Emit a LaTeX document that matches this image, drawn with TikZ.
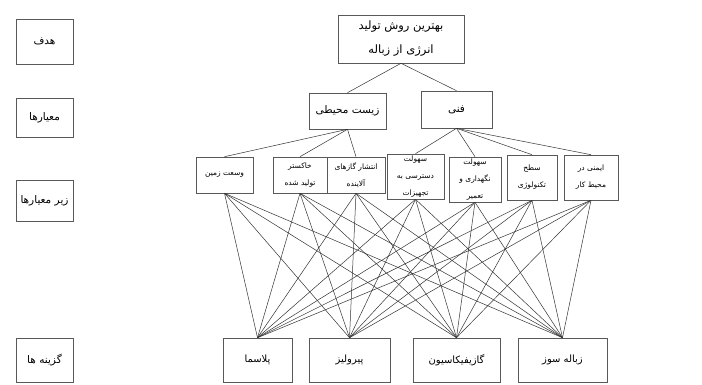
\documentclass[tikz,border=0pt]{standalone}
\usepackage{fontspec}
\newfontfamily\fa[Script=Arabic]{DejaVu Sans}
\TeXXeTstate=1
\newcommand{\RL}[1]{{\fa\beginR #1\endR}}
\tikzset{
  box/.style={draw=black!65, line width=0.6pt, inner sep=0pt, align=center, fill=white},
  lbl/.style={font=\fontsize{10.5}{24}\selectfont},
  goalf/.style={font=\fontsize{11.5}{24}\selectfont},
  crit/.style={font=\fontsize{10.5}{24}\selectfont},
  alt/.style={font=\fontsize{10}{24}\selectfont},
  small/.style={font=\fontsize{7.5}{17}\selectfont},
  ln/.style={draw=black!80, line width=0.5pt}
}
\begin{document}
\begin{tikzpicture}[x=1pt,y=-1pt]
\useasboundingbox[fill=white] (0,0) rectangle (702,385);
% left level labels
\node[box,lbl,minimum width=57,minimum height=45] (l1) at (44.5,41.5) {\RL{هدف}};
\node[box,lbl,minimum width=57,minimum height=39] (l2) at (44.5,117.5) {\RL{معیارها}};
\node[box,lbl,minimum width=57,minimum height=41] (l3) at (44.5,200.5) {\RL{زیر معیارها}};
\node[box,lbl,minimum width=57,minimum height=44] (l4) at (44.5,360) {\RL{گزینه ها}};
% goal
\node[box,goalf,minimum width=126,minimum height=48] (goal) at (401,39) {\RL{بهترین روش تولید}\\\RL{انرژی از زباله}};
% criteria
\node[box,crit,minimum width=77,minimum height=36] (env) at (347.5,111) {\RL{زیست محیطی}};
\node[box,crit,minimum width=71,minimum height=37] (tech) at (456.5,109.5) {\RL{فنی}};
% sub-criteria
\node[box,small,minimum width=57,minimum height=36] (s1) at (224.5,175) {\RL{وسعت زمین}};
\node[box,small,minimum width=54,minimum height=36] (s2) at (300,175) {\RL{خاکستر}\\\RL{تولید شده}};
\node[box,small,minimum width=58,minimum height=36] (s3) at (356,175) {\RL{انتشار گازهای}\\\RL{آلاینده}};
\node[box,small,minimum width=57,minimum height=45] (s4) at (415.5,176.5) {\RL{سهولت}\\\RL{دسترسی به}\\\RL{تجهیزات}};
\node[box,small,minimum width=52,minimum height=45] (s5) at (475,179.5) {\RL{سهولت}\\\RL{نگهداری و}\\\RL{تعمیر}};
\node[box,small,minimum width=50,minimum height=45] (s6) at (532,177.5) {\RL{سطح}\\\RL{تکنولوژی}};
\node[box,small,minimum width=54,minimum height=45] (s7) at (591,177.5) {\RL{ایمنی در}\\\RL{محیط کار}};
% alternatives
\node[box,alt,minimum width=69,minimum height=44] (a1) at (257.5,360) {\RL{پلاسما}};
\node[box,alt,minimum width=81,minimum height=44] (a2) at (349.5,360) {\RL{پیرولیز}};
\node[box,alt,minimum width=87,minimum height=44] (a3) at (456.5,360) {\RL{گازیفیکاسیون}};
\node[box,alt,minimum width=89,minimum height=44] (a4) at (562.5,360) {\RL{زباله سوز}};
% connectors
\draw[ln] (goal.south) -- (env.north);
\draw[ln] (goal.south) -- (tech.north);
\foreach \s in {s1,s2,s3} \draw[ln] (env.south) -- (\s.north);
\foreach \s in {s4,s5,s6,s7} \draw[ln] (tech.south) -- (\s.north);
\foreach \s in {s1,s2,s3,s4,s5,s6,s7}
  \foreach \a in {a1,a2,a3,a4}
    \draw[ln] (\s.south) -- (\a.north);
\end{tikzpicture}
\end{document}
